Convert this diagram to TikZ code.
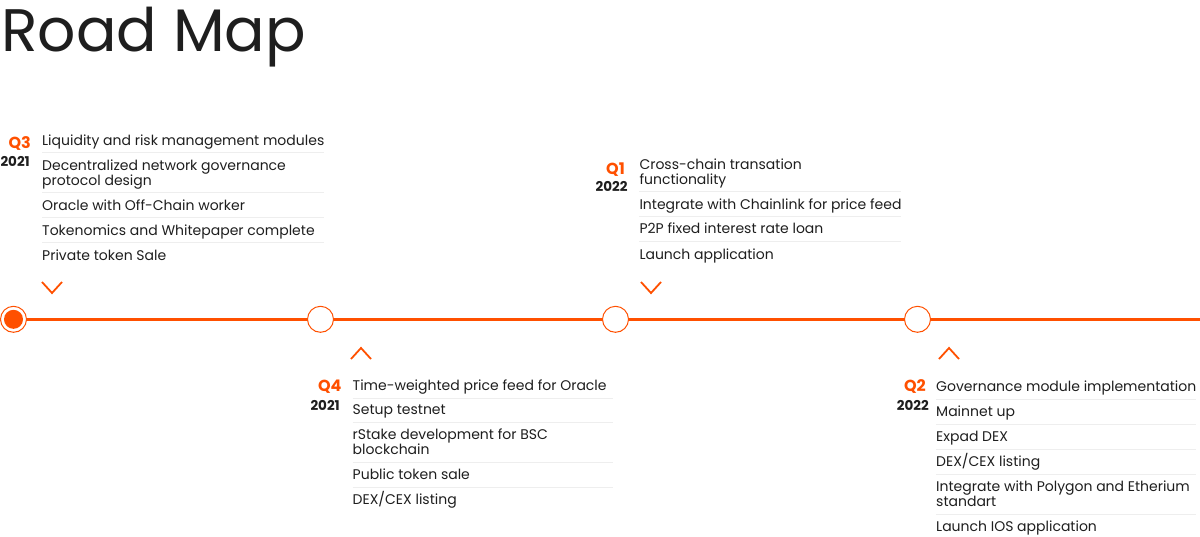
\documentclass[tikz,border=0pt]{standalone}
\usepackage{fontspec}
\setmainfont{Poppins}
\usepackage{xcolor}
\usetikzlibrary{positioning}

\definecolor{accent}{HTML}{FF5000}
\definecolor{ink}{HTML}{1E1E1E}
\definecolor{rule}{HTML}{EEEEEE}
\newcommand\itemfont{\fontsize{14}{15}\selectfont}
\newcommand\quarterfont{\fontsize{16}{18}\selectfont\bfseries}
\newcommand\yearfont{\fontsize{13.5}{15}\selectfont\bfseries}

\begin{document}
\begin{tikzpicture}
                [x=1pt, y=-1pt,
                item/.style={anchor=base west, inner sep=0pt, align=left, font=\itemfont, text=ink},
                quarter/.style={anchor=base east, inner sep=0pt, font=\quarterfont, text=accent},
                year/.style={anchor=base east, inner sep=0pt, font=\yearfont, text=ink},
                stop/.style={circle, draw=accent, fill=white, line width=1pt, minimum size=26pt, inner sep=0pt},
                sep/.style={draw=rule, line width=0.8pt},
                chevron/.style={draw=accent, line width=1.8pt},
                ]
                \useasboundingbox (0,0) rectangle (1200,536);

                \node[anchor=base west, inner sep=0pt, font=\fontsize{60}{60}\selectfont, text=ink]
                    (title) at (1,51.7) {Road Map};

                % timeline
                \draw[accent, line width=3pt] (0,319.3) coordinate (L) -- (1200,319.3) coordinate (R);
                \node[stop] (S1) at (13.5,319.3) {};
                \fill[accent] (S1.center) circle (9.5);
                \node[stop] (S2) at (320.5,319.3) {};
                \node[stop] (S3) at (615.5,319.3) {};
                \node[stop] (S4) at (917.5,319.3) {};

                % Q3 2021 (two-line items sit on their last baseline)
                \node[quarter] (q3) at (31,148) {Q3};
                \node[year] (y3) at (30,166.7) {2021};
                \node[item] (a1) at (42,145) {Liquidity and risk management modules};
                \node[item] (a2) at (42,185) {Decentralized network governance\\protocol design};
                \node[item] (a3) at (42,210) {Oracle with Off-Chain worker};
                \node[item] (a4) at (42,235) {Tokenomics and Whitepaper complete};
                \node[item] (a5) at (42,260) {Private token Sale};
                \foreach \y in {152.3,192.3,217.3,242.3}
                    \draw[sep] (42,\y) -- (324,\y);
                \draw[chevron] (42,282) -- (52,293) -- (62,282);

                % Q4 2021
                \node[quarter] (q4) at (341.7,391.7) {Q4};
                \node[year] (y4) at (340,410.7) {2021};
                \node[item] (b1) at (352.5,390.7) {Time-weighted price feed for Oracle};
                \node[item] (b2) at (352.5,414) {Setup testnet};
                \node[item] (b3) at (352.5,454.3) {rStake development for BSC\\blockchain};
                \node[item] (b4) at (352.5,479) {Public token sale};
                \node[item] (b5) at (352.5,504) {DEX/CEX listing};
                \foreach \y in {398.3,422.3,462.3,487.3}
                    \draw[sep] (352.5,\y) -- (613.3,\y);
                \draw[chevron] (351,359) -- (361,348) -- (371,359);

                % Q1 2022
                \node[quarter] (q1) at (625,174) {Q1};
                \node[year] (y1) at (627.7,191.7) {2022};
                \node[item] (c1) at (639.3,184) {Cross-chain transation\\functionality};
                \node[item] (c2) at (639.3,209.3) {Integrate with Chainlink for price feed};
                \node[item] (c3) at (639.3,233.3) {P2P fixed interest rate loan};
                \node[item] (c4) at (639.3,259) {Launch application};
                \foreach \y in {191.7,216.7,241.7}
                    \draw[sep] (639.3,\y) -- (900.7,\y);
                \draw[chevron] (641,282) -- (651,293) -- (661,282);

                % Q2 2022
                \node[quarter] (q2) at (926,391.7) {Q2};
                \node[year] (y2) at (929,410.7) {2022};
                \node[item] (d1) at (936,391.7) {Governance module implementation};
                \node[item] (d2) at (936,416.7) {Mainnet up};
                \node[item] (d3) at (936,441.7) {Expad DEX};
                \node[item] (d4) at (936,466.7) {DEX/CEX listing};
                \node[item] (d5) at (936,506.7) {Integrate with Polygon and Etherium\\standart};
                \node[item] (d6) at (936,531.7) {Launch IOS application};
                \foreach \y in {399.3,424.3,449.3,474.3,514.3}
                    \draw[sep] (936,\y) -- (1196,\y);
                \draw[chevron] (939,359) -- (949,348) -- (959,359);
            \end{tikzpicture}
\end{document}
